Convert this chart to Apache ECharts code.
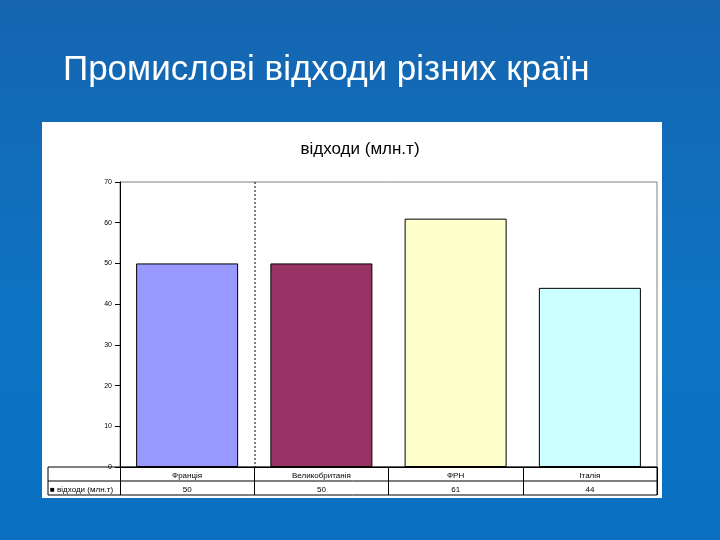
<!DOCTYPE html>
<html><head><meta charset="utf-8">
<script src="https://cdn.jsdelivr.net/npm/echarts@6/dist/echarts.min.js"></script>
<style>
html,body{margin:0;padding:0;}
#c{width:720px;height:540px;background:linear-gradient(180deg,#1565b0 0%,#0d74c4 60%,#0a6fc0 100%);}
</style></head><body>
<div id="c"></div>
<script>
const countries = ['Франція', 'Великобританія', 'ФРН', 'Італія'];
const waste = [50, 50, 61, 44];
const barColors = ['#9999ff', '#993366', '#ffffcc', '#ccffff'];

const chart = echarts.init(document.getElementById('c'));
const small = {fontSize: 8, color: '#000', fontFamily: 'Liberation Sans'};
chart.setOption({
	title: [{
		text: 'Промислові відходи різних країн',
		left: 58, top: 48,
		textStyle: {color: '#fff', fontSize: 35, fontWeight: 'normal', fontFamily: 'Liberation Sans'},
	}, {
		text: 'відходи (млн.т)',
		left: 'center', top: 136,
		textStyle: {color: '#000', fontSize: 17, fontWeight: 'normal', fontFamily: 'Liberation Sans'},
	}],
	graphic: [
		{type: 'rect', z: -10, shape: {x: 42, y: 122, width: 620, height: 376}, style: {fill: '#fff'}},
		{type: 'rect', z: 10, shape: {x: 48, y: 467, width: 609, height: 28}, style: {fill: 'none', stroke: '#000', lineWidth: 1}},
		{type: 'line', z: 10, shape: {x1: 48, y1: 481, x2: 657, y2: 481}, style: {stroke: '#000'}},
		{type: 'line', z: 10, shape: {x1: 255, y1: 182, x2: 255, y2: 467}, style: {stroke: '#000', lineDash: [2, 2]}},
		{type: 'text', z: 10, left: 50, top: 486, style: {text: '■ відходи (млн.т)', fontSize: 8, fill: '#000'}},
	],
	grid: {left: 120, right: 63, top: 182, bottom: 73, show: true, borderColor: '#808080', borderWidth: 1},
	xAxis: [{
		type: 'category', data: countries,
		axisLine: {lineStyle: {color: '#000'}},
		axisTick: {show: true, length: 28, lineStyle: {color: '#000'}},
		axisLabel: Object.assign({margin: 5}, small),
	}, {
		type: 'category', data: waste.map(String), position: 'bottom', offset: 14,
		axisLine: {show: false}, axisTick: {show: false},
		axisLabel: Object.assign({margin: 5}, small),
	}],
	yAxis: {
		type: 'value', min: 0, max: 70, interval: 10,
		axisLine: {show: true, lineStyle: {color: '#000'}},
		axisTick: {show: true, lineStyle: {color: '#000'}},
		axisLabel: {fontSize: 7, color: '#000'},
		splitLine: {show: false},
	},
	series: [{
		type: 'bar', data: waste.map((v, i) => ({value: v, itemStyle: {color: barColors[i]}})),
		barWidth: '76%',
		itemStyle: {borderColor: '#000', borderWidth: 1},
	}],
});
</script></body></html>
